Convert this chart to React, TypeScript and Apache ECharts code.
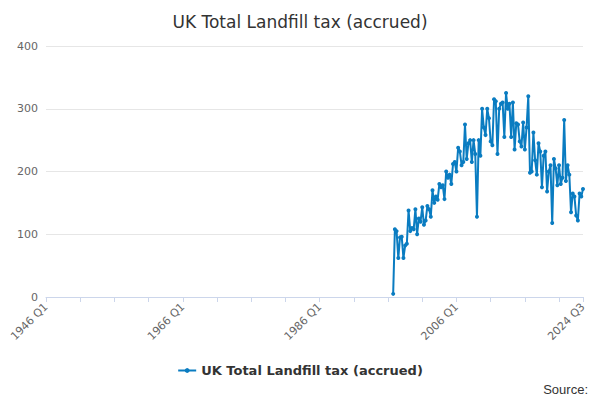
import { useEffect, useRef } from 'react';
import * as echarts from 'echarts';

const START_YEAR = 1946;
const END_YEAR = 2024;
const END_QUARTER = 3;

// 1996 Q4 onwards, £m per quarter
const FIRST_INDEX = (1996 - START_YEAR) * 4 + 3;
const VALUES = [
  5,
  108, 105, 62, 95,
  96, 62, 82, 85,
  138, 105, 110, 108,
  140, 100, 125, 120,
  143, 115, 122, 145,
  140, 128, 170, 150,
  160, 155, 180, 175,
  178, 156, 200, 190,
  195, 180, 212, 215,
  200, 238, 232, 210,
  215, 275, 220, 245,
  250, 215, 250, 228,
  128, 250, 225, 300,
  270, 258, 300, 285,
  248, 242, 315, 312,
  228, 300, 308, 310,
  255, 325, 300, 308,
  255, 310, 235, 277,
  275, 248, 240, 278,
  235, 270, 320, 198,
  200, 262, 218, 195,
  245, 232, 175, 225,
  232, 168, 200, 210,
  118, 220, 205, 178,
  210, 180, 190, 282,
  185, 210, 195, 135,
  165, 160, 130, 122,
  165, 160, 172,
];

const CATEGORIES: string[] = [];
for (let y = START_YEAR; y <= END_YEAR; y++) {
  for (let q = 1; q <= 4; q++) {
    if (y === END_YEAR && q > END_QUARTER) break;
    CATEGORIES.push(`${y} Q${q}`);
  }
}
const SERIES = CATEGORIES.map((_, i) =>
  i >= FIRST_INDEX && i - FIRST_INDEX < VALUES.length ? VALUES[i - FIRST_INDEX] : null
);

const LAST = CATEGORIES.length - 1;

export default function App() {
  const ref = useRef<HTMLDivElement>(null);

  useEffect(() => {
    if (!ref.current) return;
    const chart = echarts.init(ref.current, undefined, { renderer: 'svg' });
    chart.setOption({
      animation: false,
      textStyle: { fontFamily: 'DejaVu Sans, sans-serif' },
      title: {
        text: 'UK Total Landfill tax (accrued)',
        left: 'center',
        top: 8,
        textStyle: { fontSize: 17, fontWeight: 'normal', color: '#333' },
      },
      legend: {
        bottom: 18,
        left: 'center',
        itemWidth: 18,
        itemHeight: 6,
        textStyle: { fontSize: 13, fontWeight: 'bold', color: '#333' },
      },
      graphic: [
        {
          type: 'text',
          right: 12,
          bottom: 4,
          style: { text: 'Source:', fontSize: 13, fill: '#333' },
        },
      ],
      grid: { left: 46, right: 17, top: 46, bottom: 103 },
      xAxis: {
        type: 'category',
        data: CATEGORIES,
        boundaryGap: false,
        axisLine: { lineStyle: { color: '#ccd6eb' } },
        axisTick: {
          alignWithLabel: true,
          interval: (i: number) => i % 20 === 0 || i === LAST,
          lineStyle: { color: '#ccd6eb' },
        },
        axisLabel: {
          interval: (i: number) => i % 80 === 0 || i === LAST,
          rotate: 45,
          color: '#666',
          fontSize: 11,
        },
      },
      yAxis: {
        type: 'value',
        min: 0,
        max: 400,
        interval: 100,
        axisLabel: { color: '#666', fontSize: 11 },
        splitLine: { lineStyle: { color: '#e6e6e6' } },
      },
      series: [
        {
          name: 'UK Total Landfill tax (accrued)',
          type: 'line',
          data: SERIES,
          color: '#0a7cc1',
          symbol: 'circle',
          symbolSize: 4,
          showSymbol: true,
          showAllSymbol: true,
          lineStyle: { width: 2 },
        },
      ],
    });
    return () => chart.dispose();
  }, []);

  return (
    <div
      ref={ref}
      style={{ position: 'absolute', left: 0, top: 0, width: 600, height: 400 }}
    />
  );
}
